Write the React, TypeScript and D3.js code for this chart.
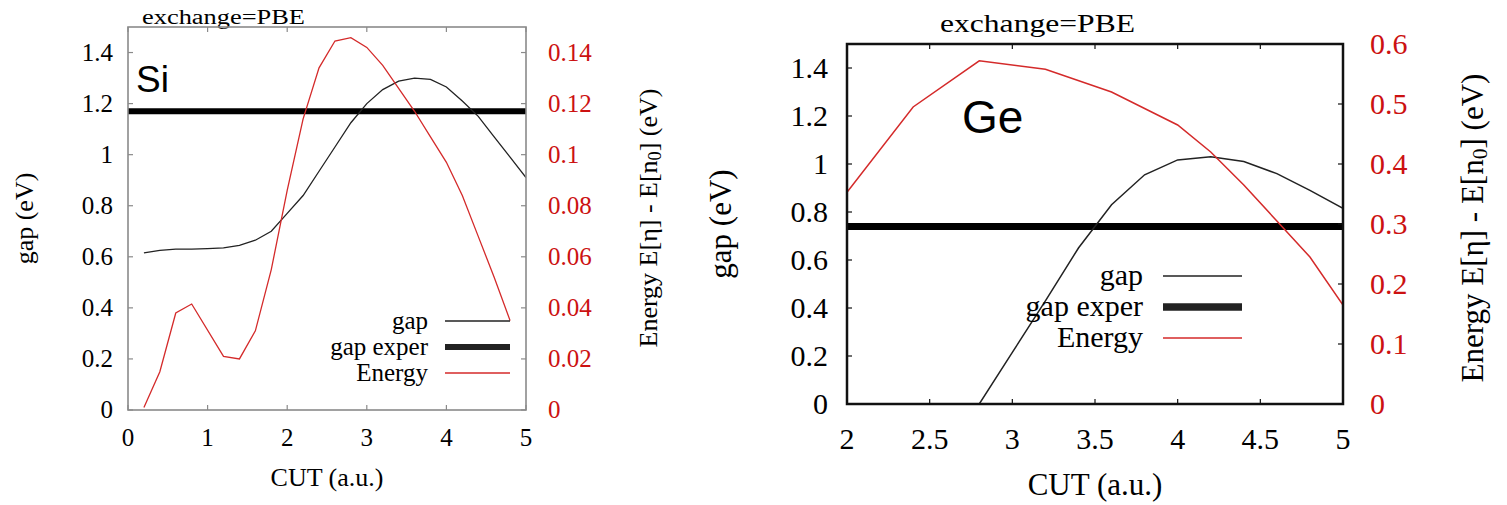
import React from "react";
import * as d3 from "d3";

// ---------- Data ----------
// Si panel
const siGapCut = [0.2, 0.4, 0.6, 0.8, 1.0, 1.2, 1.4, 1.6, 1.8, 2.0, 2.2, 2.4, 2.6, 2.8, 3.0, 3.2, 3.4, 3.6, 3.8, 4.0, 4.2, 4.4, 4.6, 4.8, 5.0];
const siGap = [0.615, 0.625, 0.63, 0.63, 0.632, 0.635, 0.645, 0.665, 0.7, 0.77, 0.84, 0.935, 1.03, 1.125, 1.2, 1.255, 1.288, 1.3, 1.295, 1.265, 1.21, 1.15, 1.07, 0.99, 0.91];
const siEnergyCut = [0.2, 0.4, 0.6, 0.8, 1.2, 1.4, 1.6, 1.8, 2.0, 2.2, 2.4, 2.6, 2.8, 3.0, 3.2, 3.4, 3.6, 3.8, 4.0, 4.2, 4.4, 4.6, 4.8];
const siEnergy = [0.001, 0.015, 0.038, 0.0415, 0.021, 0.02, 0.031, 0.055, 0.086, 0.114, 0.134, 0.1445, 0.1458, 0.142, 0.135, 0.126, 0.117, 0.107, 0.097, 0.084, 0.068, 0.052, 0.035];
const siGapExper = 1.17;
const siXTicks = [0, 1, 2, 3, 4, 5];
const siYTicks = [0, 0.2, 0.4, 0.6, 0.8, 1, 1.2, 1.4];
const siY2Ticks = [0, 0.02, 0.04, 0.06, 0.08, 0.1, 0.12, 0.14];

// Ge panel
const geGapCut = [2.8, 3.0, 3.2, 3.4, 3.6, 3.8, 4.0, 4.2, 4.4, 4.6, 4.8, 5.0];
const geGap = [0, 0.215, 0.43, 0.65, 0.83, 0.955, 1.017, 1.03, 1.01, 0.96, 0.89, 0.815];
const geEnergyCut = [2.0, 2.4, 2.8, 3.2, 3.6, 4.0, 4.2, 4.4, 4.6, 4.8, 5.0];
const geEnergy = [0.353, 0.495, 0.572, 0.558, 0.52, 0.465, 0.42, 0.365, 0.305, 0.245, 0.165];
const geGapExper = 0.74;
const geXTicks = [2, 2.5, 3, 3.5, 4, 4.5, 5];
const geYTicks = [0, 0.2, 0.4, 0.6, 0.8, 1, 1.2, 1.4];
const geY2Ticks = [0, 0.1, 0.2, 0.3, 0.4, 0.5, 0.6];

const legendLabels = ["gap", "gap exper", "Energy"];
const titleText = "exchange=PBE";

const RED = "#d42a2a";
const RED_TEXT = "#cc1111";
const SERIF = "'Liberation Serif', 'Times New Roman', serif";
const SANS = "'Liberation Sans', Arial, sans-serif";

type PanelProps = {
  left: number; right: number; top: number; bottom: number;
  xDomain: [number, number]; yDomain: [number, number]; y2Domain: [number, number];
  xTicks: number[]; yTicks: number[]; y2Ticks: number[];
  gapCut: number[]; gap: number[]; energyCut: number[]; energy: number[]; gapExper: number;
  frameColor: string; frameWidth: number; tickLen: number;
  tickFont: number; labelFont: number;
  yTickX: number; y2TickX: number; xTickBaseline: number; xLabelBaseline: number;
  yLabelX: number; y2LabelX: number; y2LabelY: number;
  title: { x: number; y: number; size: number; len: number };
  material: { text: string; x: number; y: number; size: number };
  legend: { textRight: number; x1: number; x2: number; rows: number[]; size: number; thick: number };
  thick: number; thin: number;
};

const fmt = (v: number) => String(+v.toFixed(3));

function Panel(p: PanelProps) {
  const x = d3.scaleLinear().domain(p.xDomain).range([p.left, p.right]);
  const y = d3.scaleLinear().domain(p.yDomain).range([p.bottom, p.top]);
  const y2 = d3.scaleLinear().domain(p.y2Domain).range([p.bottom, p.top]);
  const gapLine = d3.line<number>().x((_, i) => x(p.gapCut[i])).y((d) => y(d));
  const enLine = d3.line<number>().x((_, i) => x(p.energyCut[i])).y((d) => y2(d));
  const clipId = "clip" + p.left;
  const serif = { fontFamily: SERIF };
  return (
    <g>
      <defs>
        <clipPath id={clipId}>
          <rect x={p.left} y={p.top} width={p.right - p.left} height={p.bottom - p.top} />
        </clipPath>
      </defs>
      <text x={p.title.x} y={p.title.y} style={serif} fontSize={p.title.size}
        textLength={p.title.len} lengthAdjust="spacingAndGlyphs">{titleText}</text>
      <g clipPath={`url(#${clipId})`}>
        <line x1={p.left} x2={p.right} y1={y(p.gapExper)} y2={y(p.gapExper)} stroke="#000" strokeWidth={p.thick} />
        <path d={gapLine(p.gap) || ""} fill="none" stroke="#222" strokeWidth={p.thin} />
        <path d={enLine(p.energy) || ""} fill="none" stroke={RED} strokeWidth={p.thin} />
      </g>
      <text x={p.material.x} y={p.material.y} style={{ fontFamily: SANS }} fontSize={p.material.size}>{p.material.text}</text>
      <rect x={p.left} y={p.top} width={p.right - p.left} height={p.bottom - p.top} fill="none"
        stroke={p.frameColor} strokeWidth={p.frameWidth} />
      {p.xTicks.map((t) => (
        <g key={"x" + t}>
          <line x1={x(t)} x2={x(t)} y1={p.bottom} y2={p.bottom - p.tickLen} stroke={p.frameColor} strokeWidth={1.2} />
          <line x1={x(t)} x2={x(t)} y1={p.top} y2={p.top + p.tickLen} stroke={p.frameColor} strokeWidth={1.2} />
          <text x={x(t)} y={p.xTickBaseline} textAnchor="middle" style={serif} fontSize={p.tickFont}>{fmt(t)}</text>
        </g>
      ))}
      {p.yTicks.map((t) => (
        <g key={"y" + t}>
          <line x1={p.left} x2={p.left + p.tickLen} y1={y(t)} y2={y(t)} stroke={p.frameColor} strokeWidth={1.2} />
          <text x={p.yTickX} y={y(t)} dy="0.33em" textAnchor="end" style={serif} fontSize={p.tickFont}>{fmt(t)}</text>
        </g>
      ))}
      {p.y2Ticks.map((t) => (
        <g key={"y2" + t}>
          <line x1={p.right} x2={p.right - p.tickLen} y1={y2(t)} y2={y2(t)} stroke={p.frameColor} strokeWidth={1.2} />
          <text x={p.y2TickX} y={y2(t)} dy="0.33em" textAnchor="start" style={serif} fontSize={p.tickFont} fill={RED_TEXT}>{fmt(t)}</text>
        </g>
      ))}
      <text x={(p.left + p.right) / 2} y={p.xLabelBaseline} textAnchor="middle" style={serif} fontSize={p.labelFont}>CUT (a.u.)</text>
      <text transform={`translate(${p.yLabelX},${(p.top + p.bottom) / 2}) rotate(-90)`} textAnchor="middle"
        dominantBaseline="central" style={serif} fontSize={p.labelFont}>gap (eV)</text>
      <text transform={`translate(${p.y2LabelX},${p.y2LabelY}) rotate(-90)`} textAnchor="middle"
        dominantBaseline="central" style={serif} fontSize={p.labelFont}>
        Energy E[η] - E[n<tspan fontSize={p.labelFont * 0.7} dy={p.labelFont * 0.25}>0</tspan>
        <tspan dy={-p.labelFont * 0.25}>] (eV)</tspan>
      </text>
      {legendLabels.map((lab, i) => (
        <g key={lab}>
          <text x={p.legend.textRight} y={p.legend.rows[i]} dy="0.3em" textAnchor="end" style={serif} fontSize={p.legend.size}>{lab}</text>
          <line x1={p.legend.x1} x2={p.legend.x2} y1={p.legend.rows[i]} y2={p.legend.rows[i]}
            stroke={i === 2 ? RED : "#222"} strokeWidth={i === 1 ? p.legend.thick : p.thin} />
        </g>
      ))}
    </g>
  );
}

export default function App() {
  return (
    <svg width={1507} height={505} style={{ position: "absolute", left: 0, top: 0, background: "#fff" }}>
      <rect width={1507} height={505} fill="#fff" />
      <Panel
        left={128} right={526} top={27} bottom={410}
        xDomain={[0, 5]} yDomain={[0, 1.5]} y2Domain={[0, 0.15]}
        xTicks={siXTicks} yTicks={siYTicks} y2Ticks={siY2Ticks}
        gapCut={siGapCut} gap={siGap} energyCut={siEnergyCut} energy={siEnergy} gapExper={siGapExper}
        frameColor="#8a8a8a" frameWidth={1.6} tickLen={5}
        tickFont={25} labelFont={26}
        yTickX={113} y2TickX={548} xTickBaseline={446} xLabelBaseline={486}
        yLabelX={24} y2LabelX={648} y2LabelY={218}
        title={{ x: 142, y: 24, size: 20, len: 163 }}
        material={{ text: "Si", x: 136, y: 92, size: 37 }}
        legend={{ textRight: 428, x1: 445, x2: 510, rows: [321, 347, 373], size: 25, thick: 6 }}
        thick={6} thin={1.3}
      />
      <Panel
        left={847} right={1343} top={44} bottom={404}
        xDomain={[2, 5]} yDomain={[0, 1.5]} y2Domain={[0, 0.6]}
        xTicks={geXTicks} yTicks={geYTicks} y2Ticks={geY2Ticks}
        gapCut={geGapCut} gap={geGap} energyCut={geEnergyCut} energy={geEnergy} gapExper={geGapExper}
        frameColor="#111" frameWidth={2.5} tickLen={5}
        tickFont={30} labelFont={31}
        yTickX={828} y2TickX={1370} xTickBaseline={449} xLabelBaseline={495}
        yLabelX={720} y2LabelX={1472} y2LabelY={228}
        title={{ x: 940, y: 32, size: 25, len: 195 }}
        material={{ text: "Ge", x: 962, y: 133, size: 46 }}
        legend={{ textRight: 1143, x1: 1163, x2: 1242, rows: [276, 307, 338], size: 30, thick: 7.5 }}
        thick={7} thin={1.5}
      />
    </svg>
  );
}
